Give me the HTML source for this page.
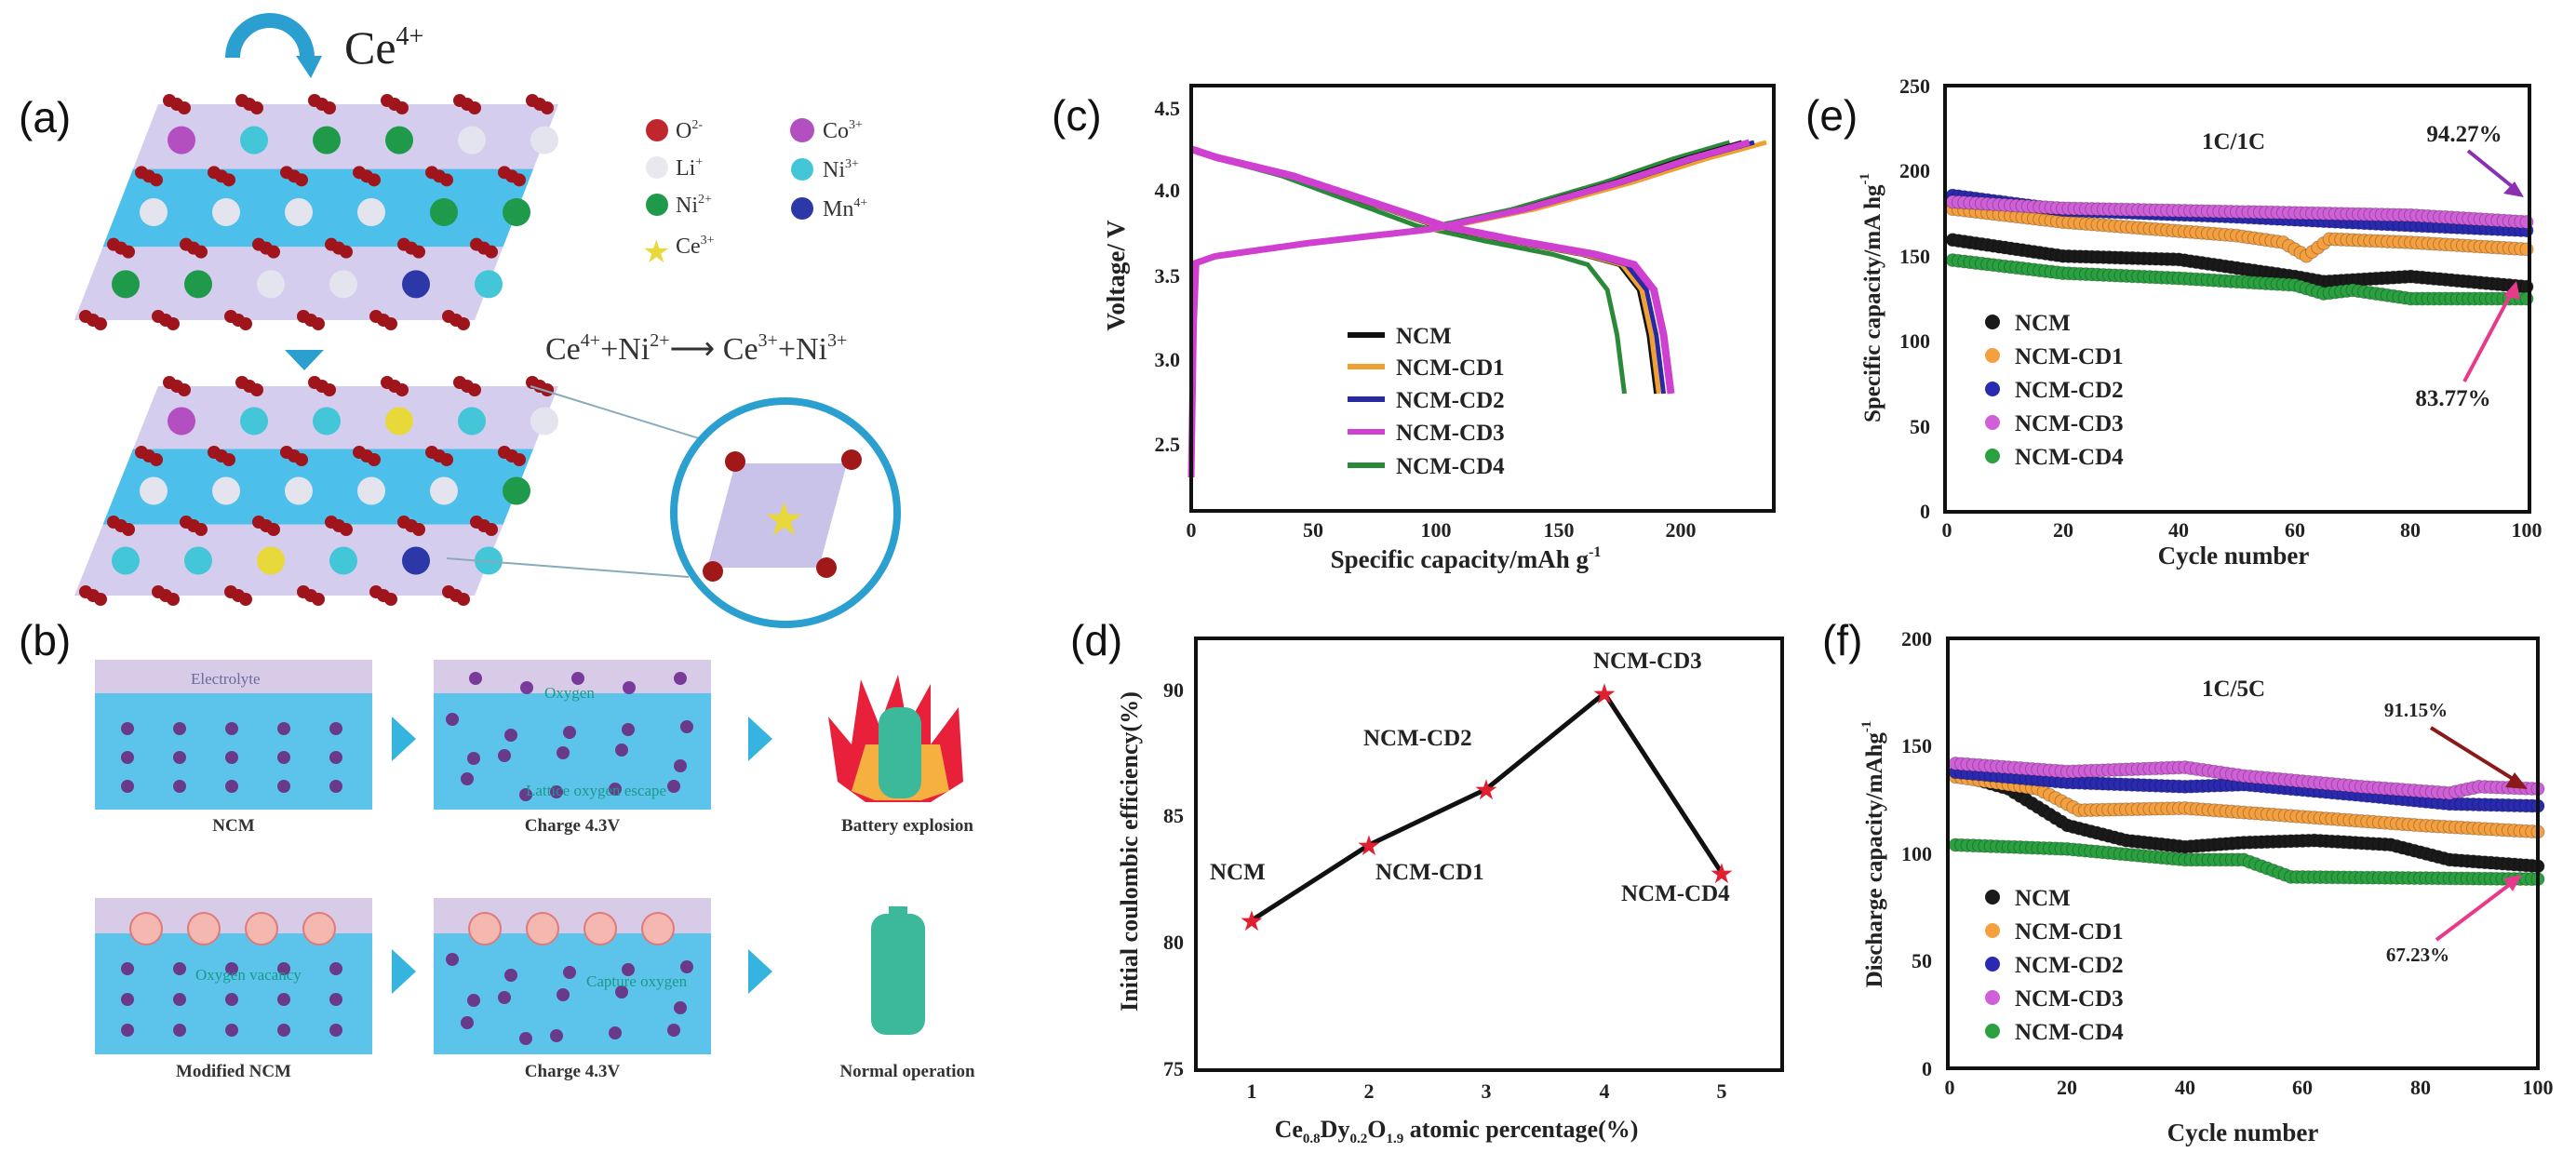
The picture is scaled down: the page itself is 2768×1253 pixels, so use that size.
<!DOCTYPE html>
<html><head><meta charset="utf-8"><style>
body{margin:0;background:#fff;}
svg{display:block}
.t{font-family:"Liberation Serif",serif;font-weight:bold;fill:#222}
.p{font-family:"Liberation Sans",sans-serif;font-size:46px;fill:#111}
</style></head><body>
<svg id="s" width="2768" height="1253" viewBox="0 0 2768 1253" xmlns="http://www.w3.org/2000/svg">
<rect width="2768" height="1253" fill="#fff"/>
<!-- panel labels -->
<text class="p" x="20" y="142">(a)</text>
<text class="p" x="20" y="704">(b)</text>
<text class="p" x="1130" y="140">(c)</text>
<text class="p" x="1940" y="140">(e)</text>
<text class="p" x="1150" y="704">(d)</text>
<text class="p" x="1958" y="704">(f)</text>

<!-- panel a -->
<path d="M250 62 A40 40 0 0 1 330 62" fill="none" stroke="#2a9fd0" stroke-width="16"/>
<polygon points="318,60 346,60 334,84" fill="#2a9fd0"/>
<text class="t" x="370" y="68" font-size="50" font-weight="normal" style="font-weight:normal">Ce<tspan font-size="28" dy="-20">4+</tspan></text>
<g id="lat1"></g>
<polygon points="306,376 348,376 327,398" fill="#2a9fd0"/>
<text x="586" y="386" font-family="Liberation Serif,serif" font-size="34" fill="#333">Ce<tspan font-size="20" dy="-14">4+</tspan><tspan dy="14">+Ni</tspan><tspan font-size="20" dy="-14">2+</tspan><tspan dy="14">⟶ Ce</tspan><tspan font-size="20" dy="-14">3+</tspan><tspan dy="14">+Ni</tspan><tspan font-size="20" dy="-14">3+</tspan></text>
<line x1="570" y1="415" x2="780" y2="480" stroke="#8ab" stroke-width="2"/>
<line x1="480" y1="600" x2="740" y2="620" stroke="#8ab" stroke-width="2"/>
<circle cx="844" cy="551" r="120" fill="#fff" stroke="#2a9fd0" stroke-width="8"/>
<polygon points="790,498 910,498 880,610 760,610" fill="#c9c3ea"/>
<circle cx="790" cy="496" r="11" fill="#a01818"/><circle cx="915" cy="494" r="11" fill="#a01818"/>
<circle cx="766" cy="614" r="11" fill="#a01818"/><circle cx="888" cy="610" r="11" fill="#a01818"/>
<text x="820" y="575" font-size="50" fill="#e8d83a">★</text>
<!-- legend a -->
<g font-family="Liberation Serif,serif" font-size="24" fill="#333">
<circle cx="706" cy="140" r="12" fill="#c0272d"/><text x="726" y="148">O<tspan font-size="14" dy="-10">2-</tspan></text>
<circle cx="706" cy="180" r="12" fill="#e8e8ee"/><text x="726" y="188">Li<tspan font-size="14" dy="-10">+</tspan></text>
<circle cx="706" cy="220" r="12" fill="#1f9a4a"/><text x="726" y="228">Ni<tspan font-size="14" dy="-10">2+</tspan></text>
<text x="690" y="282" font-size="34" fill="#e8d83a">★</text><text x="726" y="272">Ce<tspan font-size="14" dy="-10">3+</tspan></text>
<circle cx="862" cy="140" r="13" fill="#b34fc0"/><text x="884" y="148">Co<tspan font-size="14" dy="-10">3+</tspan></text>
<circle cx="862" cy="182" r="12" fill="#43c6d8"/><text x="884" y="190">Ni<tspan font-size="14" dy="-10">3+</tspan></text>
<circle cx="862" cy="224" r="12" fill="#2c37a8"/><text x="884" y="232">Mn<tspan font-size="14" dy="-10">4+</tspan></text>
</g>

<!-- panel b -->
<g id="pb"></g>
<g font-family="Liberation Serif,serif" font-weight="bold" font-size="19" fill="#333" text-anchor="middle">
<text x="251" y="893">NCM</text><text x="615" y="893">Charge 4.3V</text><text x="975" y="893">Battery explosion</text>
<text x="251" y="1157">Modified NCM</text><text x="615" y="1157">Charge 4.3V</text><text x="975" y="1157">Normal operation</text>
</g>
<g font-family="Liberation Serif,serif" font-size="17" fill="#1a9a8a">
<text x="205" y="735" fill="#6a6a9a">Electrolyte</text><text x="585" y="750">Oxygen</text><text x="565" y="855">Lattice oxygen escape</text>
<text x="210" y="1053">Oxygen vacancy</text><text x="630" y="1060">Capture oxygen</text></g>

<!-- panel c -->
<g id="pc"></g>
<rect x="1280" y="92" width="626" height="457" fill="none" stroke="#111" stroke-width="4"/>
<g class="t" font-size="22" text-anchor="end">
<text x="1268" y="124">4.5</text><text x="1268" y="212">4.0</text><text x="1268" y="304">3.5</text><text x="1268" y="394">3.0</text><text x="1268" y="485">2.5</text></g>
<g class="t" font-size="22" text-anchor="middle">
<text x="1280" y="577">0</text><text x="1411" y="577">50</text><text x="1543" y="577">100</text><text x="1675" y="577">150</text><text x="1806" y="577">200</text></g>
<text class="t" font-size="27" x="1575" y="610" text-anchor="middle">Specific capacity/mAh g<tspan font-size="16" dy="-12">-1</tspan></text>
<text class="t" font-size="27" transform="translate(1208,296) rotate(-90)" text-anchor="middle">Voltage/ V</text>
<g class="t" font-size="25">
<line x1="1448" y1="360" x2="1488" y2="360" stroke="#111" stroke-width="6"/><text x="1500" y="369">NCM</text>
<line x1="1448" y1="394" x2="1488" y2="394" stroke="#f0a030" stroke-width="6"/><text x="1500" y="403">NCM-CD1</text>
<line x1="1448" y1="429" x2="1488" y2="429" stroke="#2a2aa0" stroke-width="6"/><text x="1500" y="438">NCM-CD2</text>
<line x1="1448" y1="464" x2="1488" y2="464" stroke="#d040d0" stroke-width="6"/><text x="1500" y="473">NCM-CD3</text>
<line x1="1448" y1="500" x2="1488" y2="500" stroke="#2a8a3a" stroke-width="6"/><text x="1500" y="509">NCM-CD4</text>
</g>

<!-- panel e -->
<g id="pe"></g>
<rect x="2090" y="92" width="628" height="458" fill="none" stroke="#111" stroke-width="4"/>
<g class="t" font-size="22" text-anchor="end">
<text x="2074" y="100">250</text><text x="2074" y="191">200</text><text x="2074" y="283">150</text><text x="2074" y="374">100</text><text x="2074" y="466">50</text><text x="2074" y="557">0</text></g>
<g class="t" font-size="22" text-anchor="middle">
<text x="2092" y="577">0</text><text x="2217" y="577">20</text><text x="2341" y="577">40</text><text x="2466" y="577">60</text><text x="2590" y="577">80</text><text x="2715" y="577">100</text></g>
<text class="t" font-size="27" x="2400" y="606" text-anchor="middle">Cycle number</text>
<text class="t" font-size="25" transform="translate(2020,320) rotate(-90)" text-anchor="middle">Specific capacity/mA hg<tspan font-size="15" dy="-12">-1</tspan></text>
<text class="t" font-size="25" x="2400" y="160" text-anchor="middle">1C/1C</text>
<text class="t" font-size="25" x="2648" y="152" text-anchor="middle">94.27%</text>
<text class="t" font-size="25" x="2636" y="436" text-anchor="middle">83.77%</text>
<line x1="2652" y1="162" x2="2705" y2="205" stroke="#8a30b0" stroke-width="4"/><polygon points="2712,212 2690,208 2702,195" fill="#8a30b0"/>
<line x1="2648" y1="410" x2="2700" y2="312" stroke="#e83a8a" stroke-width="4"/><polygon points="2704,302 2690,318 2708,322" fill="#e83a8a"/>

<!-- panel d -->
<rect x="1285" y="686" width="630" height="464" fill="none" stroke="#111" stroke-width="4"/>
<g class="t" font-size="22" text-anchor="end">
<text x="1272" y="749">90</text><text x="1272" y="884">85</text><text x="1272" y="1020">80</text><text x="1272" y="1156">75</text></g>
<g class="t" font-size="22" text-anchor="middle">
<text x="1345" y="1180">1</text><text x="1471" y="1180">2</text><text x="1597" y="1180">3</text><text x="1724" y="1180">4</text><text x="1850" y="1180">5</text></g>
<text class="t" font-size="26" x="1565" y="1222" text-anchor="middle">Ce<tspan font-size="15" dy="6">0.8</tspan><tspan dy="-6">Dy</tspan><tspan font-size="15" dy="6">0.2</tspan><tspan dy="-6">O</tspan><tspan font-size="15" dy="6">1.9</tspan><tspan dy="-6"> atomic percentage(%)</tspan></text>
<text class="t" font-size="26" transform="translate(1222,915) rotate(-90)" text-anchor="middle">Initial coulombic efficiency(%)</text>
<polyline points="1345,989 1471,908 1597,848 1724,745 1850,938" fill="none" stroke="#111" stroke-width="5"/>
<g fill="#e02030" font-size="30" text-anchor="middle">
<text x="1345" y="1000">★</text><text x="1471" y="919">★</text><text x="1597" y="859">★</text><text x="1724" y="756">★</text><text x="1850" y="949">★</text></g>
<g class="t" font-size="25" fill="#333">
<text x="1300" y="945">NCM</text><text x="1478" y="945">NCM-CD1</text><text x="1465" y="801">NCM-CD2</text><text x="1712" y="718">NCM-CD3</text><text x="1742" y="968">NCM-CD4</text></g>

<!-- panel f -->
<g id="pf"></g>
<rect x="2093" y="686" width="634" height="462" fill="none" stroke="#111" stroke-width="4"/>
<g class="t" font-size="22" text-anchor="end">
<text x="2076" y="694">200</text><text x="2076" y="809">150</text><text x="2076" y="925">100</text><text x="2076" y="1040">50</text><text x="2076" y="1156">0</text></g>
<g class="t" font-size="22" text-anchor="middle">
<text x="2095" y="1176">0</text><text x="2221" y="1176">20</text><text x="2348" y="1176">40</text><text x="2474" y="1176">60</text><text x="2601" y="1176">80</text><text x="2727" y="1176">100</text></g>
<text class="t" font-size="27" x="2410" y="1226" text-anchor="middle">Cycle number</text>
<text class="t" font-size="25" transform="translate(2022,918) rotate(-90)" text-anchor="middle">Discharge capacity/mAhg<tspan font-size="15" dy="-12">-1</tspan></text>
<text class="t" font-size="25" x="2400" y="748" text-anchor="middle">1C/5C</text>
<text class="t" font-size="21" x="2596" y="770" text-anchor="middle">91.15%</text>
<text class="t" font-size="21" x="2598" y="1033" text-anchor="middle">67.23%</text>
<line x1="2612" y1="782" x2="2705" y2="840" stroke="#8a1a1a" stroke-width="4"/><polygon points="2716,848 2692,846 2702,830" fill="#8a1a1a"/>
<line x1="2618" y1="1010" x2="2700" y2="948" stroke="#e83a8a" stroke-width="4"/><polygon points="2710,940 2690,944 2700,958" fill="#e83a8a"/>

<g id="legs"></g>
</svg>
<script>
var NS="http://www.w3.org/2000/svg";
function el(p,t,a){var e=document.createElementNS(NS,t);for(var k in a)e.setAttribute(k,a[k]);p.appendChild(e);return e;}
function interp(pts,x){for(var i=0;i<pts.length-1;i++){if(x<=pts[i+1][0]){var a=pts[i],b=pts[i+1];return a[1]+(b[1]-a[1])*(x-a[0])/(b[0]-a[0]);}}return pts[pts.length-1][1];}
// lattice
function lattice(g,y0,y1,xs,shift,rows){
 var h=y1-y0,sl=90;
 el(g,'polygon',{points:(xs+sl)+','+y0+' '+(xs+sl+430)+','+y0+' '+(xs+430)+','+y1+' '+xs+','+y1,fill:'#d4cdee'});
 var b1=y0+h*0.3,b2=y0+h*0.66;
 function xl(y){return xs+sl*(y1-y)/h;}
 el(g,'polygon',{points:xl(b1)+','+b1+' '+(xl(b1)+430)+','+b1+' '+(xl(b2)+430)+','+b2+' '+xl(b2)+','+b2,fill:'#4cc0ea'});
 for(var r=0;r<4;r++){var y=y0+h*r/3;for(var c=0;c<6;c++){var x=xl(y)+c*78+12;for(var k=0;k<3;k++)el(g,'circle',{cx:x+k*8,cy:y+k*4-4,r:7,fill:'#a0141c'});}}
 for(var r=0;r<3;r++){var y=y0+h*(r+0.5)/3;for(var c=0;c<6;c++){var x=xl(y)+c*78+40;el(g,'circle',{cx:x,cy:y,r:15,fill:rows[r][c]});}}
}
var g1=document.getElementById('lat1');
var W='#e4e4ee',G='#1f9a4a',C='#43c6d8',P='#b34fc0',B='#2c37a8';
lattice(g1,112,344,80,0,[[P,C,G,G,W,W],[W,W,W,W,G,G],[G,G,W,W,B,C]]);
lattice(g1,415,640,80,0,[[P,C,C,'#e8d83a',C,W],[W,W,W,W,W,G],[C,C,'#e8d83a',C,B,C]]);
// panel b
var pb=document.getElementById('pb');
[[709,870,745],[965,1133,1003]].forEach(function(r,ri){
 [102,466].forEach(function(x,ci){
  el(pb,'rect',{x:x,y:r[0],width:298,height:r[1]-r[0],fill:'#5cc4ea'});
  el(pb,'rect',{x:x,y:r[0],width:298,height:r[2]-r[0],fill:'#d8cbe8'});
  for(var i=0;i<5;i++)for(var j=0;j<3;j++){var cx=x+35+i*56+(ci?((i*37+j*23)%30-15):0),cy=r[2]+38+j*(ri?33:31)+(ci?((i*17+j*11)%20-10):0);el(pb,'circle',{cx:cx,cy:cy,r:7,fill:'#6a3a8a'});}
  if(ri==1)for(var i=0;i<4;i++)el(pb,'circle',{cx:x+55+i*62,cy:r[2]-5,r:17,fill:'#f4b8b0',stroke:'#e07a7a','stroke-width':2});
  if(ri==0&&ci==1)for(var i=0;i<5;i++)el(pb,'circle',{cx:x+45+i*55,cy:r[0]+20+(i%2)*10,r:7,fill:'#7a3a9a'});
 });
 [431,814].forEach(function(x){var y=ri?1044:794;el(pb,'polygon',{points:(x-10)+','+(y-24)+' '+(x+16)+','+y+' '+(x-10)+','+(y+24),fill:'#35b4e0'});});
});
el(pb,'polygon',{points:'900,840 890,770 915,800 925,730 945,780 965,725 975,780 1000,735 1000,800 1030,760 1035,840 1000,862 930,862',fill:'#e8203a'});
el(pb,'polygon',{points:'915,850 930,800 1010,800 1020,850 990,860 940,860',fill:'#f5b040'});
el(pb,'rect',{x:944,y:760,width:46,height:98,rx:18,fill:'#3cb89a'});
el(pb,'rect',{x:936,y:982,width:58,height:130,rx:16,fill:'#3cb89a'});
el(pb,'rect',{x:955,y:974,width:20,height:10,fill:'#3cb89a'});
// panel c
var pc=document.getElementById('pc');
function Xc(c){return 1280+c*2.63}function Yc(v){return 477-(v-2.5)*180}
var cols=['#111','#f0a030','#2a2aa0','#d040d0','#2a8a3a'];
var chEnd=[225,235,230,228,220],dis=[190,191,193,196,177];
var ch=[[0,2.3],[1,3.2],[2,3.58],[10,3.62],[50,3.7],[100,3.78],[140,3.9],[180,4.06],[210,4.2],[235,4.3]];
var ds=[[0,4.26],[10,4.21],[40,4.1],[70,3.95],[100,3.8],[130,3.71],[160,3.63],[175,3.57]];
[4,0,1,2,3].forEach(function(i){
 var d='';var s=chEnd[i]/235;
 for(var c=0;c<=chEnd[i];c+=1){d+=(c?'L':'M')+Xc(c).toFixed(1)+' '+Yc(interp(ch,c/s)).toFixed(1);}
 el(pc,'path',{d:d,fill:'none',stroke:cols[i],'stroke-width':i==3?7:5});
 var Q=dis[i],sc=(Q-15)/175,d2='';
 for(var c=0;c<=Q-15;c+=1){d2+=(c?'L':'M')+Xc(c).toFixed(1)+' '+Yc(interp(ds,c/sc)).toFixed(1);}
 d2+='L'+Xc(Q-7)+' '+Yc(3.42)+' L'+Xc(Q-3)+' '+Yc(3.15)+' L'+Xc(Q)+' '+Yc(2.8);
 el(pc,'path',{d:d2,fill:'none',stroke:cols[i],'stroke-width':i==3?8:5});
});
// cycling dots
function dots(gid,X,Y,series){
 var g=document.getElementById(gid);
 series.forEach(function(s){for(var n=1;n<=100;n++){var v=interp(s.p,n);el(g,'circle',{cx:X(n),cy:Y(v),r:7,fill:s.c,stroke:'rgba(0,0,0,0.25)','stroke-width':1});}});
}
var dc={k:'#1a1a1a',o:'#f5a040',b:'#2a2ab0',m:'#d060d8',g:'#2aa040'};
dots('pe',function(n){return 2092+n*6.23},function(v){return 550-v*1.832},[
 {c:dc.o,p:[[0,178],[20,170],[50,162],[58,158],[62,150],[66,160],[80,158],[100,154]]},
 {c:dc.k,p:[[0,160],[20,150],[40,148],[60,138],[65,135],[80,138],[100,132]]},
 {c:dc.g,p:[[0,148],[20,140],[40,137],[60,133],[65,128],[70,130],[80,125],[100,125]]},
 {c:dc.b,p:[[0,186],[20,177],[50,173],[80,168],[100,165]]},
 {c:dc.m,p:[[0,182],[20,178],[50,176],[80,174],[100,170]]}]);
dots('pf',function(n){return 2095+n*6.32},function(v){return 1148-v*2.31},[
 {c:dc.g,p:[[0,104],[20,102],[40,97],[50,97],[58,89],[100,88]]},
 {c:dc.k,p:[[0,138],[10,130],[20,113],[30,106],[40,103],[50,105],[62,106],[75,104],[85,97],[100,94]]},
 {c:dc.o,p:[[0,136],[15,130],[22,120],[40,121],[60,117],[80,113],[100,110]]},
 {c:dc.b,p:[[0,138],[20,133],[40,131],[50,132],[70,127],[85,123],[100,122]]},
 {c:dc.m,p:[[0,142],[20,138],[40,140],[50,136],[70,131],[85,128],[90,131],[100,130]]}]);
var lg=document.getElementById('legs');
[[2141,346],[2141,964]].forEach(function(o){
 var names=['NCM','NCM-CD1','NCM-CD2','NCM-CD3','NCM-CD4'],cc=[dc.k,dc.o,dc.b,dc.m,dc.g];
 for(var i=0;i<5;i++){var y=o[1]+i*36;el(lg,'circle',{cx:o[0],cy:y,r:8,fill:cc[i]});var t=el(lg,'text',{x:o[0]+24,y:y+9,'class':'t','font-size':25});t.textContent=names[i];}
});
</script>
</body></html>
